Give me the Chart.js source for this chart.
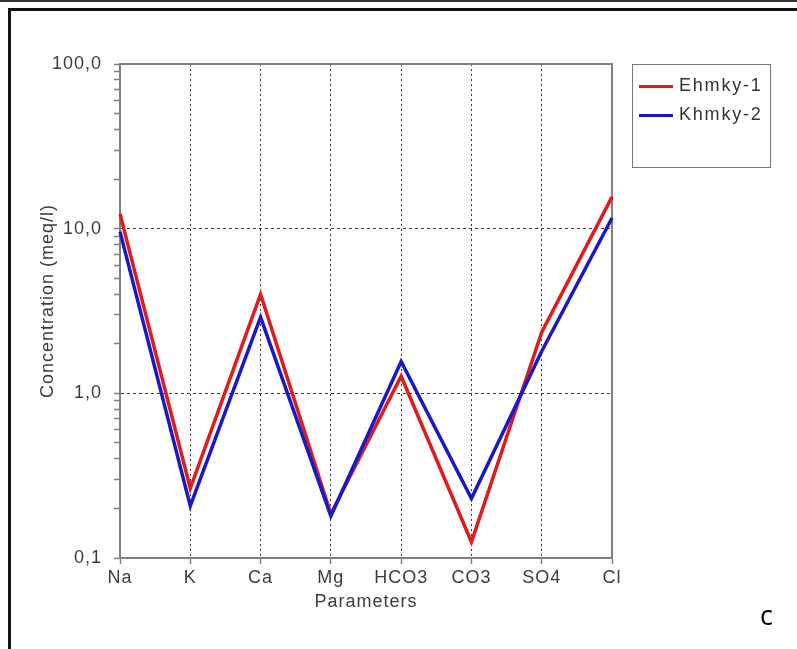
<!DOCTYPE html>
<html>
<head>
<meta charset="utf-8">
<script src="https://cdn.jsdelivr.net/npm/chart.js@4.4.1/dist/chart.umd.min.js"></script>
<style>
  body { margin: 0; background: #fff; width: 797px; height: 649px; overflow: hidden; position: relative; }
  #wrap { position: absolute; left: 0; top: 0; width: 797px; height: 649px; }
  .topline { position: absolute; left: 0; right: 0; top: 0; height: 2px; background: #333; }
  .frame { position: absolute; left: 8px; top: 8px; right: -10px; bottom: -10px; border-top: 3px solid #111; border-left: 3px solid #111; }
  #legend { position: absolute; left: 632px; top: 64px; width: 137px; height: 102px; border: 1.5px solid #777;
            font-family: "Liberation Sans", Arial, sans-serif; font-size: 18px; color: #333; letter-spacing: 1.8px; }
  .item { position: absolute; left: 6px; height: 22px; line-height: 22px; }
  .item span.swatch { display: inline-block; width: 34px; height: 3px; vertical-align: middle; margin-right: 6px; }
  #tag { position: absolute; left: 760px; top: 596px; font-family: "Open Sans", sans-serif; font-size: 27px; color: #000; }
</style>
</head>
<body>
<div id="wrap"><canvas id="chart" width="797" height="649"></canvas></div>
<div class="topline"></div>
<div class="frame"></div>
<div id="legend"></div>
<div id="tag">c</div>
<script>
// ---------- DATA ----------
const categories = ["Na", "K", "Ca", "Mg", "HCO3", "CO3", "SO4", "Cl"];
const ehmky1 = [12.3, 0.265, 4.0, 0.185, 1.27, 0.125, 2.35, 15.6];
const khmky2 = [9.6, 0.207, 2.9, 0.18, 1.56, 0.23, 1.8, 11.6];
const seriesNames = ["Ehmky-1", "Khmky-2"];
const seriesColors = ["#e01b1b", "#1818c8"];
const decadeTicks = [0.1, 1, 10, 100];
const yTitle = "Concentration (meq/l)";

const AXIS_GRAY = "#808080";
const GRID_DARK = "#3a3a3a";
const TEXT = "#3c3c3c";
const FONT = "'Liberation Sans', Arial, sans-serif";

// ---------- LEGEND (html box) ----------
const legend = document.getElementById("legend");
seriesNames.forEach((name, i) => {
  const div = document.createElement("div");
  div.className = "item";
  div.style.top = (9 + i * 29) + "px";
  div.innerHTML = `<span class="swatch" style="background:${seriesColors[i]}"></span>${name}`;
  legend.appendChild(div);
});

function isDecade(v) {
  return decadeTicks.some((d) => Math.abs(d - v) < 1e-9);
}

// plot frame (top + right edges), letter spacing, y title
const framePlugin = {
  id: "frame",
  beforeDraw(chart) {
    chart.ctx.letterSpacing = "1px";
  },
  beforeDatasetsDraw(chart) {
    const { ctx, chartArea: a } = chart;
    ctx.save();
    ctx.strokeStyle = AXIS_GRAY;
    ctx.lineWidth = 2;
    ctx.beginPath();
    ctx.moveTo(a.left, a.top);
    ctx.lineTo(a.right, a.top);
    ctx.lineTo(a.right, a.bottom);
    ctx.stroke();
    ctx.restore();
  },
  afterDraw(chart) {
    const { ctx } = chart;
    ctx.save();
    ctx.translate(48, 301);
    ctx.rotate(-Math.PI / 2);
    ctx.fillStyle = TEXT;
    ctx.font = "18px " + FONT;
    ctx.textAlign = "center";
    ctx.textBaseline = "middle";
    ctx.fillText(yTitle, 0, 0);
    ctx.restore();
  },
};

new Chart(document.getElementById("chart"), {
  type: "line",
  data: {
    labels: categories,
    datasets: [
      { label: seriesNames[0], data: ehmky1, borderColor: seriesColors[0], borderWidth: 3.5, pointRadius: 0, tension: 0, order: 2 },
      { label: seriesNames[1], data: khmky2, borderColor: seriesColors[1], borderWidth: 3.5, pointRadius: 0, tension: 0, order: 1 },
    ],
  },
  options: {
    responsive: false,
    animation: false,
    layout: { padding: { top: 64, right: 185, left: 0, bottom: 0 } },
    plugins: { legend: { display: false }, tooltip: { enabled: false } },
    scales: {
      x: {
        type: "category",
        offset: false,
        afterFit: (s) => { s.height = 91; },
        border: { display: true, color: AXIS_GRAY, width: 2, dash: [2, 3] },
        grid: {
          color: (c) => (c.index === 0 || c.index === categories.length - 1 ? "rgba(0,0,0,0)" : GRID_DARK),
          lineWidth: 1,
          tickColor: AXIS_GRAY,
          tickLength: 6,
          tickWidth: 1.5,
        },
        ticks: { color: TEXT, font: { family: FONT, size: 18 }, padding: 3, maxRotation: 0, autoSkip: false },
        title: { display: true, text: "Parameters", color: TEXT, font: { family: FONT, size: 18 }, padding: { bottom: 36 } },
      },
      y: {
        type: "logarithmic",
        min: 0.1,
        max: 100,
        afterFit: (s) => { s.width = 120; },
        afterBuildTicks: (s) => {
          const ticks = [];
          decadeTicks.forEach((d, i) => {
            if (i === decadeTicks.length - 1) { ticks.push({ value: d }); return; }
            for (let k = 1; k <= 9; k++) ticks.push({ value: +(d * k).toPrecision(3) });
          });
          s.ticks = ticks;
        },
        border: { display: true, color: AXIS_GRAY, width: 2, dash: [3, 3] },
        grid: {
          color: (c) => {
            const v = c.tick && c.tick.value;
            return v === 1 || v === 10 ? GRID_DARK : "rgba(0,0,0,0)";
          },
          lineWidth: 1,
          tickColor: AXIS_GRAY,
          tickLength: 6,
          tickWidth: 1.5,
        },
        ticks: {
          color: TEXT,
          font: { family: FONT, size: 18 },
          padding: 12,
          autoSkip: false,
          callback: (v) => (isDecade(v) ? Number(v).toFixed(1).replace(".", ",") : ""),
        },
        title: { display: false },
      },
    },
  },
  plugins: [framePlugin],
});
</script>
</body>
</html>
